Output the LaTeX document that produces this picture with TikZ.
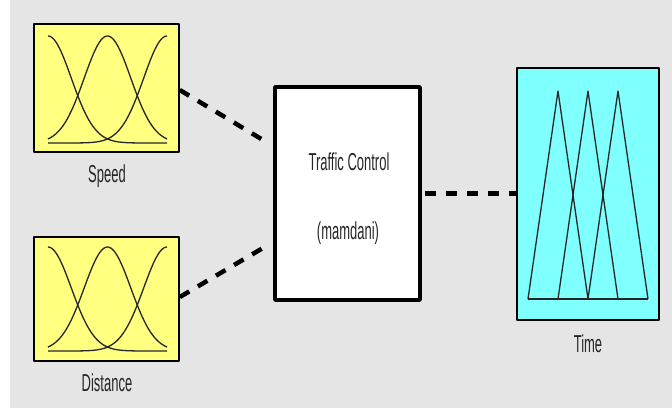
\documentclass[tikz,border=0pt]{standalone}
\usepackage{fontspec}
\setmainfont{Liberation Sans}[FakeStretch=0.53]
\definecolor{panel}{HTML}{E5E5E5}
\definecolor{inyellow}{HTML}{FFFF80}
\definecolor{outcyan}{HTML}{80FFFF}
\definecolor{txt}{HTML}{262626}
\tikzset{
  varbox/.style={draw=black, line width=1.6pt, inner sep=0pt},
  mf/.style={line width=1.3pt, black!85},
  link/.style={line width=4.5pt, dash pattern=on 11pt off 10pt},
  lbl/.style={anchor=base, text=txt, font=\fontsize{24.5}{28}\selectfont}
}
\begin{document}
\begin{tikzpicture}[x=1pt, y=-1pt, line join=round]
    \fill[white] (0,0) rectangle (672,408);
    \useasboundingbox (0,0) rectangle (672,408);
    \fill[panel] (10,0) rectangle (672,408);
    % input and output variables
    \node[varbox, fill=inyellow, minimum width=145pt, minimum height=128pt] (speed) at (106.5,88) {};
    \node[varbox, fill=inyellow, minimum width=145pt, minimum height=124pt] (dist) at (106.5,299) {};
    \node[varbox, fill=outcyan, line width=2pt, minimum width=142pt, minimum height=252pt] (time) at (588,194) {};
    \node[varbox, fill=white, line width=3.5pt, minimum width=145pt, minimum height=213pt] (ctrl) at (347.5,193.5) {};
    % membership functions
    \foreach \c in {48,107.5,167}
        \draw[mf] plot[domain=48:167, samples=80] (\x, {143-107*exp(-((\x-\c)^2)/1085)});
    \foreach \c in {48,107.5,167}
        \draw[mf] plot[domain=48:167, samples=80] (\x, {351-104*exp(-((\x-\c)^2)/1085)});
    \foreach \a in {528,558,588}
        \draw[mf] (\a,299)--(\a+30,91)--(\a+60,299);
    \draw[mf] (528,299)--(648,299);
    % texts
    \node[lbl] (speedtxt) at (107,182) {Speed};
    \node[lbl] (disttxt) at (107,391) {Distance};
    \node[lbl] (timetxt) at (588,352) {Time};
    \node[lbl] (ctrltxt) at (349,170) {Traffic Control};
    \node[lbl, anchor=center] (ctrltype) at (348,233) {(mamdani)};
    % rule connections
    \coordinate (in1) at (268,143);
    \coordinate (in2) at (268,245);
    \draw[link] (speed.east |- 0,90) -- (in1);
    \draw[link] (dist.east |- 0,297) -- (in2);
    \draw[link] ([xshift=3pt]ctrl.east) -- (ctrl.east -| time.west);
\end{tikzpicture}
\end{document}
